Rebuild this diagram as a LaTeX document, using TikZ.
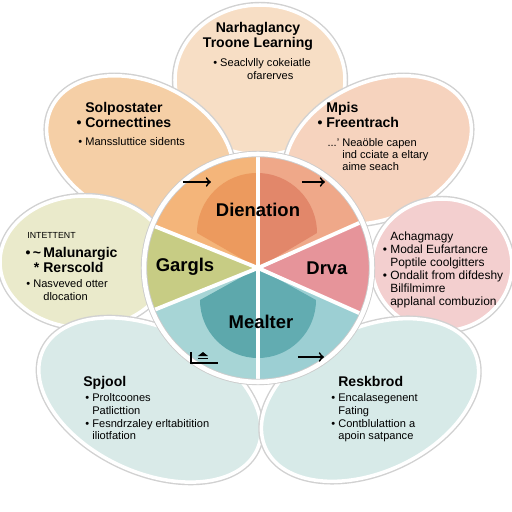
\documentclass[tikz,border=0pt]{standalone}
\usepackage{fontspec}
\setmainfont{Liberation Sans}

\definecolor{petTop}{HTML}{F7DEC5}
\definecolor{petTL}{HTML}{F5CFA6}
\definecolor{petTR}{HTML}{F6D3BE}
\definecolor{petL}{HTML}{EAEACB}
\definecolor{petR}{HTML}{F3CFCF}
\definecolor{petBL}{HTML}{D9EAE8}
\definecolor{petBR}{HTML}{D7EAE8}
\definecolor{wedTL}{HTML}{F4B57A}
\definecolor{wedTR}{HTML}{EFA889}
\definecolor{wedR}{HTML}{E6949A}
\definecolor{wedL}{HTML}{C7CC84}
\definecolor{wedBL}{HTML}{A7D5D6}
\definecolor{wedBR}{HTML}{9CCFD3}
\definecolor{innTL}{HTML}{EC9A5E}
\definecolor{innTR}{HTML}{E2876A}
\definecolor{innBL}{HTML}{5DA8AC}
\definecolor{innBR}{HTML}{62ACB1}

\tikzset{
  petal/.style={draw=white, line width=2pt, preaction={draw=black!18, line width=3.6pt}},
  sepline/.style={white, line width=2.2pt},
  title/.style={font=\fontsize{8}{8.6}\selectfont\bfseries, align=left, inner sep=0pt, anchor=north west},
  body/.style={font=\fontsize{6.3}{7.3}\selectfont, align=left, inner sep=0pt, anchor=north west},
  core/.style={font=\fontsize{10.5}{12}\selectfont\bfseries, inner sep=0pt},
  arrow/.style={->, line width=1pt}
}

\begin{document}
\begin{tikzpicture}[x=0.02cm, y=0.02cm]
  \useasboundingbox (0,0) rectangle (512,512);
  \fill[white] (0,0) rectangle (512,512);
  \coordinate (C) at (258,244);

  \path[petal, fill=petTop] (260,432) ellipse [x radius=85, y radius=75];
  \path[petal, fill=petTL, rotate around={-25:(140,362)}] (140,362) ellipse [x radius=98, y radius=68];
  \path[petal, fill=petTR, rotate around={25:(378,362)}] (378,362) ellipse [x radius=98, y radius=68];
  \path[petal, fill=petL] (85,250) ellipse [x radius=85, y radius=66];
  \path[petal, fill=petR] (442,247) ellipse [x radius=70, y radius=66];
  \path[petal, fill=petBL, rotate around={-25:(150,112)}] (150,112) ellipse [x radius=118, y radius=72];
  \path[petal, fill=petBR, rotate around={25:(370,112)}] (370,112) ellipse [x radius=115, y radius=72];

  \foreach \a/\b/\c in {24/90/wedTR, 90/158/wedTL, 158/202/wedL, 202/270/wedBL, 270/336/wedBR, 336/384/wedR}
    \fill[\c] (C) -- +(\a:113) arc[start angle=\a, end angle=\b, radius=113] -- cycle;

  \begin{scope}
    \clip (0,244) rectangle (258,512);
    \fill[innTL] (C) -- (197,279) arc[start angle=180, end angle=0, radius=60] -- cycle;
  \end{scope}
  \begin{scope}
    \clip (258,244) rectangle (512,512);
    \fill[innTR] (C) -- (197,279) arc[start angle=180, end angle=0, radius=60] -- cycle;
  \end{scope}
  \begin{scope}
    \clip (0,0) rectangle (258,244);
    \fill[innBL] (C) -- (200,212) arc[start angle=180, end angle=360, radius=58] -- cycle;
  \end{scope}
  \begin{scope}
    \clip (258,0) rectangle (512,244);
    \fill[innBR] (C) -- (200,212) arc[start angle=180, end angle=360, radius=58] -- cycle;
  \end{scope}

  \foreach \a in {24,90,158,202,270,336} \draw[sepline] (C) -- +(\a:113);
  \draw[black!20, line width=3.6pt] (C) circle[radius=114];
  \draw[white, line width=2.6pt] (C) circle[radius=114];

  \node[core] (dien) at (258,302) {Dienation};
  \node[core] (garg) at (185,245) {Gargls};
  \node[core] (drva) at (327,244) {Drva};
  \node[core] (meal) at (261,190) {Mealter};

  \coordinate (tlA) at (183,330); \coordinate (tlB) at (211,330);
  \coordinate (trA) at (302,330); \coordinate (trB) at (325,330);
  \coordinate (brA) at (298,155); \coordinate (brB) at (324,155);
  \draw[arrow] (tlA) -- (tlB);
  \draw[arrow] (trA) -- (trB);
  \draw[arrow] (brA) -- (brB);
  \draw[line width=0.9pt] (191,160) |- (218,149);
  \fill (198,156) -- (203,160) -- (208,156) -- cycle;
  \draw[line width=0.6pt] (198,153.5) -- (208,153.5);

  \node[title, anchor=north, align=center] (topT) at (258,490) {Narhaglancy\\Troone Learning};
  \node[body, anchor=north, align=center] (topB) at (262,454) {\textbullet\ Seaclvlly cokeiatle\\\hspace*{1.5em}ofarerves};

  \node[title] (tlT) at (85,410) {Solpostater\\\llap{\textbullet\ }Cornecttines};
  \node[body] (tlB) at (85,375) {\llap{\textbullet\ }Manssluttice sidents};

  \node[title] (trT) at (326,410) {Mpis\\\llap{\textbullet\ }Freentrach};
  \node[body, font=\fontsize{6.3}{6.9}\selectfont] (trB) at (342,374) {\llap{...'\ }Neaöble capen\\ind cciate a eltary\\aime seach};

  \node[body, font=\fontsize{5}{6}\selectfont] (lH) at (27,280) {INTETTENT};
  \node[title] (lT) at (43,265) {\llap{\textbullet\,\textasciitilde\,}Malunargic\\\llap{*\ }Rerscold};
  \node[body] (lB) at (33,233) {\llap{\textbullet\ }Nasveved otter\\\hspace*{5.7pt}dlocation};

  \node[body, font=\fontsize{6.8}{7.4}\selectfont] (rB) at (390,281) {Achagmagy\\\llap{\textbullet\ }Modal Eufartancre\\Poptile coolgitters\\\llap{\textbullet\ }Ondalit from difdeshy\\Bilfilmimre\\applanal combuzion};

  \node[title] (blT) at (83,136) {Spjool};
  \node[body] (blB) at (92,119) {\llap{\textbullet\ }Proltcoones\\Patlicttion\\\llap{\textbullet\ }Fesndrzaley erltabitition\\iliotfation};

  \node[title] (brT) at (338,136) {Reskbrod};
  \node[body] (brB) at (338,119) {\llap{\textbullet\ }Encalasegenent\\Fating\\\llap{\textbullet\ }Contblulattion a\\apoin satpance};
\end{tikzpicture}
\end{document}
